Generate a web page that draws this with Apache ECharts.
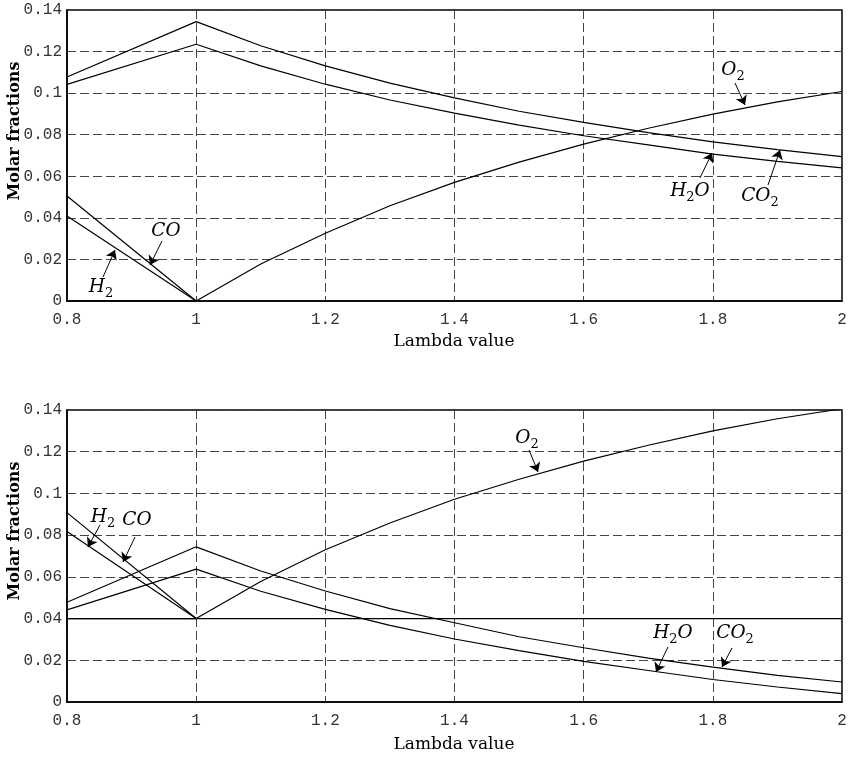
<!DOCTYPE html>
<html>
<head>
<meta charset="utf-8">
<script src="https://cdn.jsdelivr.net/npm/echarts@6/dist/echarts.min.js"></script>
<style>
  html, body { margin: 0; padding: 0; background: #fff; }
  #chart { width: 850px; height: 757px; }
</style>
</head>
<body>
<div id="chart"></div>
<script>
// Lambda values (excess air ratio) at which the mixture was evaluated
const lambdaVals = [0.8, 1.0, 1.1, 1.2, 1.3, 1.4, 1.5, 1.6, 1.7, 1.8, 1.9, 2.0];
const lambdaRich = [0.8, 1.0];
const lambdaSpan = [0.8, 2.0];

// Upper panel: molar fractions
const co2Upper = [0.1078, 0.1344, 0.1228, 0.1131, 0.1048, 0.0977, 0.0913, 0.0859, 0.0810, 0.0766, 0.0728, 0.0695];
const h2oUpper = [0.1042, 0.1235, 0.1131, 0.1043, 0.0967, 0.0904, 0.0846, 0.0795, 0.0751, 0.0707, 0.0672, 0.0640];
const o2Upper  = [0, 0, 0.0178, 0.0326, 0.0458, 0.0571, 0.0668, 0.0755, 0.0831, 0.0899, 0.0958, 0.1008];
const coUpper  = [0.0505, 0];
const h2Upper  = [0.0409, 0];

// Lower panel: molar fractions
const co2Lower = [0.0478, 0.0744, 0.0628, 0.0532, 0.0448, 0.0380, 0.0313, 0.0260, 0.0210, 0.0167, 0.0128, 0.0096];
const h2oLower = [0.0442, 0.0637, 0.0531, 0.0444, 0.0367, 0.0302, 0.0246, 0.0195, 0.0151, 0.0108, 0.0072, 0.0040];
const o2Lower  = [0.04, 0.04, 0.0578, 0.0730, 0.0858, 0.0972, 0.1068, 0.1155, 0.1231, 0.1300, 0.1358, 0.1406];
const coLower  = [0.0908, 0.04];
const h2Lower  = [0.0817, 0.04];
const refLower = [0.04, 0.04];

// Species labels with leader arrows: [text, labelX, labelY, tailX, tailY, tipX, tipY]
const notesUpper = {
  co:  ['{i|CO}',          0.9533, 0.0337, 0.9471, 0.0289, 0.9285, 0.0173],
  h2:  ['{i|H}{s|2}',      0.8526, 0.0067, 0.8557, 0.0115, 0.8743, 0.0245],
  o2:  ['{i|O}{s|2}',      1.8312, 0.1111, 1.8343, 0.1049, 1.8498, 0.0943],
  h2o: ['{i|H}{s|2}{i|O}', 1.7646, 0.0529, 1.7801, 0.0592, 1.7987, 0.0712],
  co2: ['{i|CO}{s|2}',     1.8730, 0.0505, 1.8854, 0.0558, 1.9040, 0.0726]
};
const notesLower = {
  h2:  ['{i|H}{s|2}',      0.8557, 0.0887, 0.8511, 0.0849, 0.8325, 0.0743],
  co:  ['{i|CO}',          0.9084, 0.0873, 0.9053, 0.0791, 0.8867, 0.0671],
  o2:  ['{i|O}{s|2}',      1.5123, 0.1266, 1.5154, 0.1208, 1.5293, 0.1103],
  h2o: ['{i|H}{s|2}{i|O}', 1.7383, 0.0331, 1.7306, 0.0264, 1.7120, 0.0144],
  co2: ['{i|CO}{s|2}',     1.8344, 0.0331, 1.8297, 0.0259, 1.8142, 0.0168]
};

const pair = (xs, ys) => ys.map((y, i) => [xs[i], y]);

const richStyle = {
  i: { fontFamily: 'DejaVu Serif', fontStyle: 'italic', fontSize: 18.5, lineHeight: 26, color: '#000' },
  s: { fontFamily: 'DejaVu Serif', fontSize: 13, lineHeight: 13, verticalAlign: 'bottom', color: '#000' }
};

function curve(name, xs, ys, gridIdx, note) {
  const s = {
    name: name,
    type: 'line',
    xAxisIndex: gridIdx,
    yAxisIndex: gridIdx,
    data: pair(xs, ys),
    showSymbol: false,
    symbol: 'none',
    silent: true,
    lineStyle: { color: '#000', width: 1.2 },
    z: 5
  };
  if (note) {
    s.markPoint = {
      symbol: 'circle',
      symbolSize: 0,
      silent: true,
      label: { show: true, position: 'inside', rich: richStyle },
      data: [{ coord: [note[1], note[2]], label: { formatter: note[0] } }]
    };
    s.markLine = {
      silent: true,
      symbol: ['none', 'arrow'],
      symbolSize: 9,
      label: { show: false },
      lineStyle: { color: '#000', width: 1, type: 'solid' },
      data: [[{ coord: [note[3], note[4]] }, { coord: [note[5], note[6]] }]]
    };
  }
  return s;
}

const axisFont = { fontFamily: 'Liberation Mono', fontSize: 16, color: '#333' };

function xAxisFor(gridIdx) {
  return {
    type: 'value', gridIndex: gridIdx, min: 0.8, max: 2, interval: 0.2,
    axisLine: { show: true, lineStyle: { color: '#000', width: 1.5 } },
    axisTick: { show: false },
    axisLabel: Object.assign({ margin: 11, formatter: v => String(+v.toFixed(1)) }, axisFont),
    splitLine: { show: true, lineStyle: { color: '#444', type: [9, 4], width: 1 } }
  };
}
function yAxisFor(gridIdx) {
  return {
    type: 'value', gridIndex: gridIdx, min: 0, max: 0.14, interval: 0.02,
    axisLine: { show: true, lineStyle: { color: '#000', width: 1.5 } },
    axisTick: { show: false },
    axisLabel: Object.assign({ margin: 5, formatter: v => String(+v.toFixed(2)) }, axisFont),
    splitLine: { show: true, lineStyle: { color: '#444', type: [9, 4], width: 1 } }
  };
}

const titleFont = { fontFamily: 'DejaVu Serif', fill: '#000' };

const chart = echarts.init(document.getElementById('chart'), null, { renderer: 'canvas' });
chart.setOption({
  animation: false,
  backgroundColor: '#fff',
  grid: [
    { left: 67, top: 10, width: 775, height: 291, show: true, borderColor: '#000', borderWidth: 1.5, backgroundColor: 'transparent' },
    { left: 67, top: 410, width: 775, height: 292, show: true, borderColor: '#000', borderWidth: 1.5, backgroundColor: 'transparent' }
  ],
  xAxis: [xAxisFor(0), xAxisFor(1)],
  yAxis: [yAxisFor(0), yAxisFor(1)],
  graphic: [
    { type: 'text', x: 15, y: 131, rotation: Math.PI / 2,
      style: Object.assign({ text: 'Molar fractions', fontSize: 16, fontWeight: 'bold', textAlign: 'center', textVerticalAlign: 'middle' }, titleFont) },
    { type: 'text', x: 15, y: 531, rotation: Math.PI / 2,
      style: Object.assign({ text: 'Molar fractions', fontSize: 16, fontWeight: 'bold', textAlign: 'center', textVerticalAlign: 'middle' }, titleFont) },
    { type: 'text', x: 454, y: 342,
      style: Object.assign({ text: 'Lambda value', fontSize: 17, textAlign: 'center', textVerticalAlign: 'middle' }, titleFont) },
    { type: 'text', x: 454, y: 745,
      style: Object.assign({ text: 'Lambda value', fontSize: 17, textAlign: 'center', textVerticalAlign: 'middle' }, titleFont) }
  ],
  series: [
    curve('CO2', lambdaVals, co2Upper, 0, notesUpper.co2),
    curve('H2O', lambdaVals, h2oUpper, 0, notesUpper.h2o),
    curve('O2',  lambdaVals, o2Upper,  0, notesUpper.o2),
    curve('CO',  lambdaRich, coUpper,  0, notesUpper.co),
    curve('H2',  lambdaRich, h2Upper,  0, notesUpper.h2),
    curve('CO2', lambdaVals, co2Lower, 1, notesLower.co2),
    curve('H2O', lambdaVals, h2oLower, 1, notesLower.h2o),
    curve('O2',  lambdaVals, o2Lower,  1, notesLower.o2),
    curve('CO',  lambdaRich, coLower,  1, notesLower.co),
    curve('H2',  lambdaRich, h2Lower,  1, notesLower.h2),
    curve('ref', lambdaSpan, refLower, 1, null)
  ]
});
</script>
</body>
</html>
